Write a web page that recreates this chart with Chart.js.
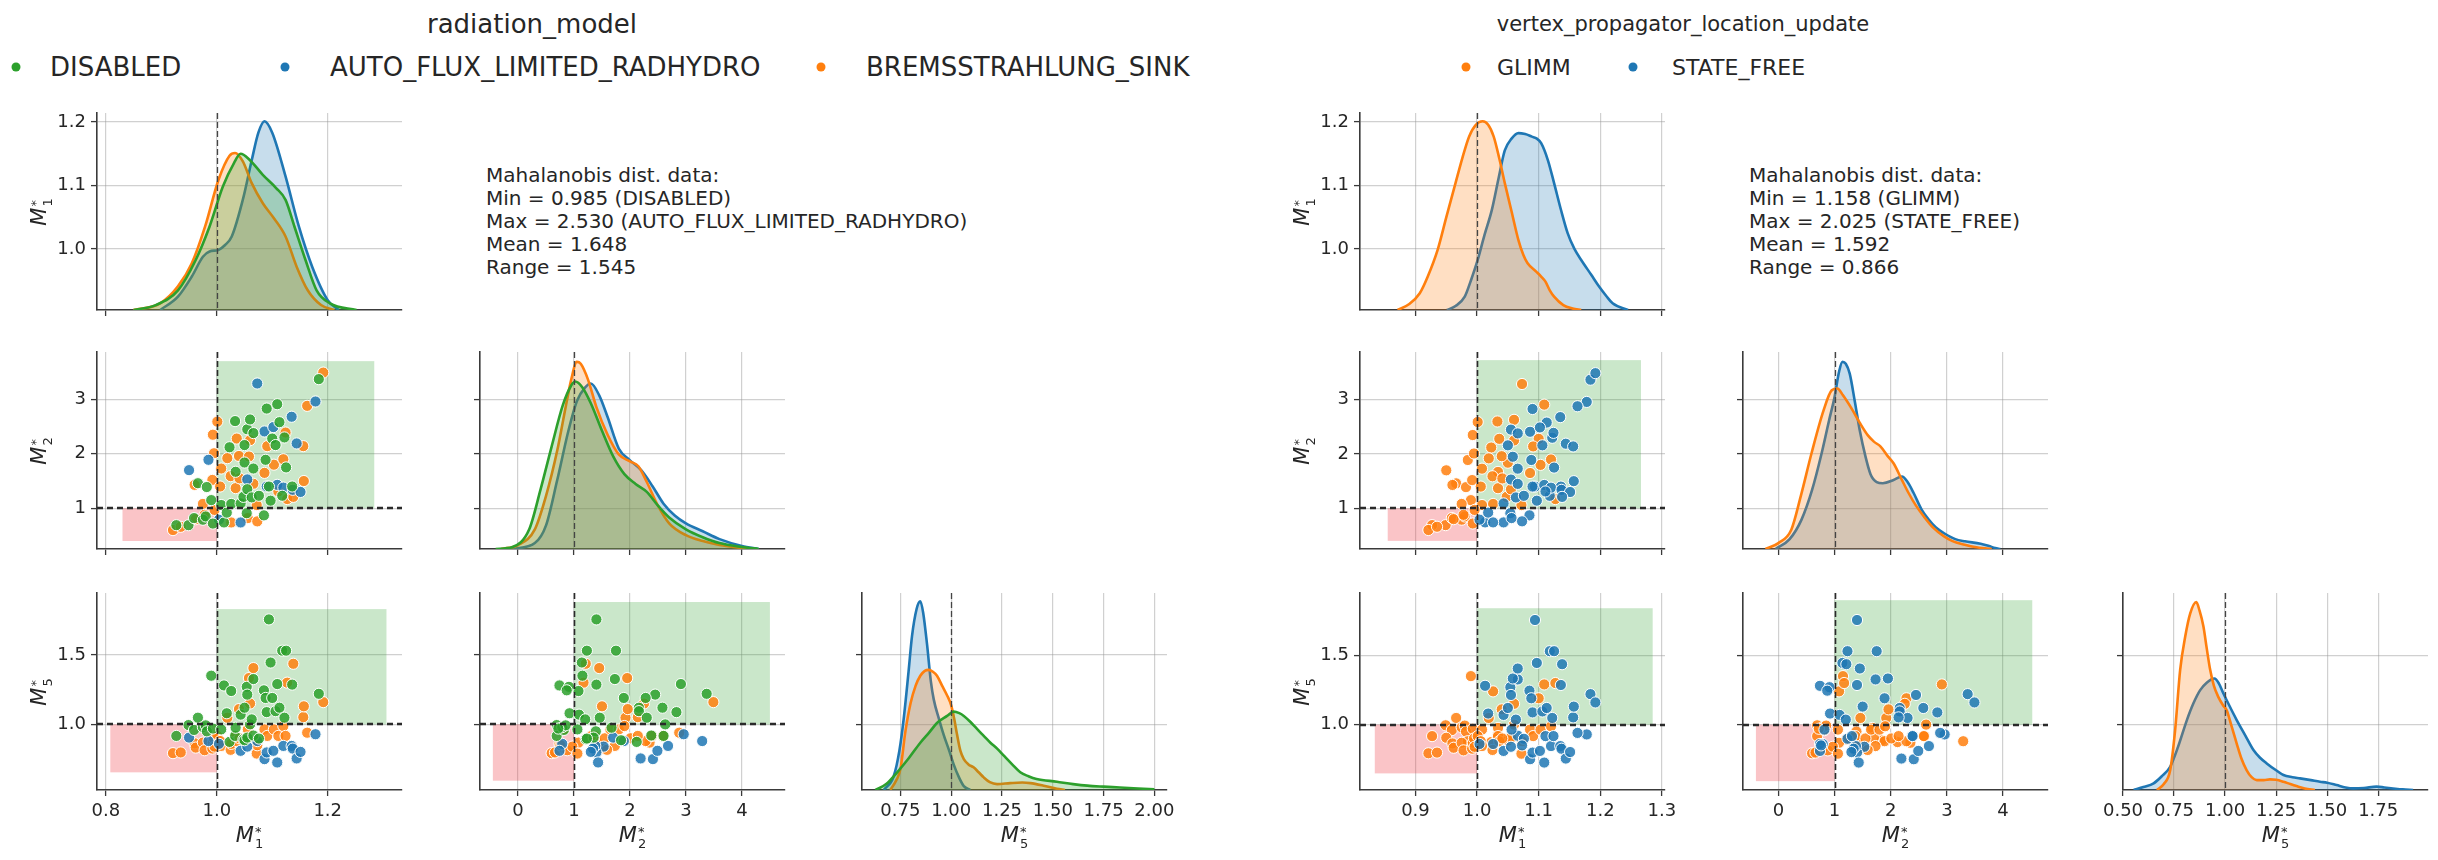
<!DOCTYPE html>
<html><head><meta charset="utf-8">
<script src="https://cdn.jsdelivr.net/npm/chart.js@4.4.1/dist/chart.umd.min.js"></script>
<style>
html,body{margin:0;padding:0;background:#fff;}
#wrap{position:relative;width:2438px;height:860px;overflow:hidden;background:#fff;font-family:'DejaVu Sans',sans-serif;color:#262626;}
canvas{position:absolute;}
.t{position:absolute;white-space:nowrap;}
.title{transform:translate(-50%,-50%);}
.leg{transform:translateY(-50%);}
.dot{position:absolute;width:9px;height:9px;border-radius:50%;transform:translate(-50%,-50%);}
.note{font-size:20px;line-height:23px;}
.ax{font-size:21px;transform:translate(-50%,-50%);}
.ay{font-size:21px;transform:translate(-50%,-50%) rotate(-90deg);}
.ss{display:inline-flex;flex-direction:column;font-size:0.62em;line-height:0.9;vertical-align:0.45em;margin-left:1px;text-align:left;font-style:normal;}
</style></head>
<body><div id="wrap"></div>
<script>
// ---------------- DATA ----------------
const radiationNames = ['DISABLED','AUTO_FLUX_LIMITED_RADHYDRO','BREMSSTRAHLUNG_SINK'];
const vertexNames = ['GLIMM','STATE_FREE'];
// each point: [M1*, M2*, M5*, vertex label ('G' = GLIMM, 'S' = STATE_FREE)]
const ptsDisabled = [
[0.927,0.69,0.917,'G'],[0.949,0.69,0.995,'G'],[0.959,0.82,0.960,'G'],[0.966,1.46,1.048,'G'],
[0.975,0.79,0.980,'G'],[0.980,0.85,0.993,'G'],[0.982,1.39,0.950,'G'],[0.990,1.15,1.350,'G'],
[0.993,0.72,0.970,'G'],[1.008,1.06,0.964,'G'],[1.013,0.74,1.280,'S'],[1.018,0.92,1.080,'S'],
[1.023,2.12,0.874,'G'],[1.026,1.08,1.240,'G'],[1.033,2.60,0.917,'G'],[1.034,1.67,0.976,'G'],
[1.043,1.09,1.070,'S'],[1.048,1.21,0.893,'G'],[1.050,2.16,1.120,'S'],[1.050,1.84,0.886,'G'],
[1.054,0.91,1.270,'S'],[1.055,2.45,1.214,'S'],[1.055,1.35,0.905,'G'],[1.060,2.63,1.000,'G'],
[1.063,1.20,1.036,'S'],[1.066,2.38,0.920,'S'],[1.066,1.73,1.326,'S'],[1.076,1.23,0.898,'S'],
[1.085,0.87,1.245,'S'],[1.088,1.89,1.190,'S'],[1.090,2.83,1.088,'S'],[1.094,1.40,1.755,'S'],
[1.097,1.14,1.445,'S'],[1.100,2.28,1.190,'G'],[1.106,2.16,1.095,'S'],[1.109,2.91,1.290,'G'],
[1.113,2.58,1.120,'S'],[1.118,1.23,1.530,'S'],[1.122,2.30,1.048,'S'],[1.125,1.75,1.530,'S'],
[1.136,1.40,1.286,'S'],[1.184,3.37,1.220,'S']
];
const ptsAuto = [
[0.950,1.70,0.905,'G'],[0.985,1.89,0.880,'G'],[1.004,0.79,0.860,'S'],[1.043,0.74,0.810,'S'],
[1.055,1.53,0.840,'S'],[1.073,3.29,0.880,'G'],[1.086,2.41,0.750,'S'],[1.090,1.40,0.798,'S'],
[1.102,2.49,0.810,'S'],[1.109,1.43,0.726,'S'],[1.120,1.38,0.845,'S'],[1.135,2.68,0.845,'S'],
[1.137,1.34,0.826,'S'],[1.144,2.19,0.755,'S'],[1.151,1.30,0.802,'S'],[1.178,2.96,0.929,'S']
];
const ptsBrems = [
[0.921,0.60,0.793,'G'],[0.935,0.66,0.798,'G'],[0.960,1.43,0.864,'G'],[0.962,0.80,0.833,'G'],
[0.975,1.08,0.869,'G'],[0.978,0.88,0.814,'G'],[0.992,1.52,0.826,'G'],[0.993,2.35,0.869,'G'],
[0.995,2.01,0.900,'G'],[0.996,0.97,0.840,'G'],[1.001,2.59,0.917,'G'],[1.006,1.40,0.880,'G'],
[1.008,1.73,0.845,'G'],[1.019,1.92,1.048,'G'],[1.025,1.59,0.817,'G'],[1.026,0.74,0.860,'S'],
[1.034,1.37,0.917,'G'],[1.036,2.28,0.880,'G'],[1.040,1.96,1.110,'G'],[1.041,1.55,0.900,'G'],
[1.056,0.82,0.964,'S'],[1.058,1.95,1.333,'S'],[1.060,2.25,1.150,'G'],[1.066,1.45,1.405,'S'],
[1.072,1.06,0.790,'G'],[1.073,0.76,0.850,'S'],[1.086,1.65,0.964,'G'],[1.091,2.14,0.917,'G'],
[1.103,1.80,0.964,'G'],[1.111,1.31,0.917,'S'],[1.120,1.90,0.988,'G'],[1.124,2.39,0.917,'S'],
[1.127,1.17,1.300,'G'],[1.138,1.21,1.436,'S'],[1.156,2.14,1.052,'S'],[1.157,1.50,1.130,'S'],
[1.163,2.88,0.940,'S'],[1.192,3.49,1.160,'S']
];

// KDE curves: [value, relative density]
const kdeL_M1_auto = [[0.898,0],[0.93,0.068],[0.955,0.17],[0.975,0.27],[0.987,0.297],[1.003,0.305],[1.015,0.33],[1.027,0.373],[1.047,0.56],[1.063,0.76],[1.075,0.9],[1.086,0.958],[1.1,0.9],[1.124,0.678],[1.148,0.424],[1.172,0.22],[1.2,0.05],[1.22,0]];
const kdeL_M1_brems = [[0.85,0],[0.898,0.034],[0.93,0.12],[0.955,0.237],[0.979,0.424],[1.003,0.66],[1.023,0.783],[1.033,0.797],[1.047,0.754],[1.063,0.644],[1.083,0.542],[1.103,0.466],[1.124,0.373],[1.144,0.22],[1.164,0.1],[1.188,0.025],[1.212,0]];
const kdeL_M1_disabled = [[0.85,0],[0.89,0.025],[0.93,0.1],[0.962,0.254],[0.987,0.424],[1.011,0.627],[1.031,0.746],[1.043,0.793],[1.059,0.763],[1.083,0.686],[1.107,0.619],[1.124,0.559],[1.14,0.424],[1.16,0.254],[1.18,0.1],[1.204,0.034],[1.252,0]];
const kdeL_M2_auto = [[-0.1,0],[0.3,0.03],[0.5,0.12],[0.7,0.35],[0.9,0.6],[1.05,0.75],[1.2,0.82],[1.3,0.84],[1.45,0.78],[1.6,0.67],[1.8,0.51],[2.0,0.45],[2.2,0.4],[2.4,0.32],[2.6,0.23],[2.8,0.17],[3.0,0.13],[3.3,0.09],[3.6,0.05],[4.0,0.015],[4.3,0]];
const kdeL_M2_brems = [[-0.3,0],[0.0,0.02],[0.3,0.1],[0.5,0.27],[0.7,0.5],[0.85,0.72],[0.95,0.86],[1.05,0.95],[1.12,0.94],[1.25,0.86],[1.4,0.72],[1.6,0.58],[1.8,0.48],[2.0,0.445],[2.15,0.42],[2.3,0.34],[2.5,0.22],[2.7,0.13],[3.0,0.07],[3.3,0.04],[3.6,0.02],[4.0,0.005],[4.2,0]];
const kdeL_M2_disabled = [[-0.4,0],[-0.1,0.01],[0.2,0.1],[0.4,0.3],[0.6,0.52],[0.8,0.73],[0.95,0.83],[1.02,0.85],[1.15,0.82],[1.3,0.74],[1.5,0.6],[1.7,0.47],[1.9,0.38],[2.1,0.33],[2.3,0.29],[2.5,0.22],[2.7,0.16],[3.0,0.1],[3.3,0.06],[3.6,0.03],[4.0,0.01],[4.3,0]];
const kdeL_M5_auto = [[0.668,0],[0.717,0.07],[0.745,0.2],[0.766,0.36],[0.79,0.6],[0.807,0.78],[0.83,0.92],[0.848,0.958],[0.862,0.9],[0.881,0.74],[0.9,0.55],[0.914,0.46],[0.94,0.36],[0.963,0.28],[0.99,0.2],[1.012,0.13],[1.04,0.06],[1.062,0.02],[1.094,0]];
const kdeL_M5_brems = [[0.70,0],[0.73,0.05],[0.75,0.106],[0.775,0.3],[0.8,0.44],[0.825,0.53],[0.848,0.58],[0.87,0.605],[0.889,0.61],[0.91,0.6],[0.93,0.58],[0.955,0.53],[0.98,0.48],[1.0,0.43],[1.015,0.36],[1.029,0.28],[1.045,0.2],[1.062,0.157],[1.085,0.13],[1.11,0.115],[1.135,0.09],[1.16,0.064],[1.19,0.04],[1.226,0.03],[1.29,0.035],[1.35,0.038],[1.39,0.035],[1.455,0.022],[1.52,0.006],[1.56,0]];
const kdeL_M5_disabled = [[0.627,0],[0.68,0.03],[0.734,0.09],[0.79,0.16],[0.848,0.24],[0.89,0.29],[0.93,0.34],[0.98,0.376],[1.012,0.398],[1.04,0.39],[1.062,0.376],[1.095,0.345],[1.127,0.31],[1.16,0.275],[1.193,0.24],[1.226,0.21],[1.259,0.174],[1.3,0.13],[1.34,0.09],[1.38,0.07],[1.42,0.056],[1.52,0.042],[1.6,0.03],[1.67,0.022],[1.75,0.017],[1.83,0.013],[1.92,0.008],[2.0,0.003]];
const kdeR_M1_glimm = [[0.871,0],[0.89,0.03],[0.907,0.085],[0.92,0.17],[0.936,0.305],[0.95,0.47],[0.965,0.644],[0.976,0.77],[0.987,0.88],[0.998,0.94],[1.009,0.958],[1.018,0.94],[1.027,0.88],[1.036,0.77],[1.045,0.644],[1.056,0.5],[1.067,0.356],[1.075,0.28],[1.082,0.237],[1.096,0.195],[1.104,0.17],[1.111,0.144],[1.118,0.1],[1.125,0.068],[1.14,0.025],[1.155,0.008],[1.169,0]];
const kdeR_M1_state = [[0.951,0],[0.965,0.02],[0.98,0.068],[0.99,0.15],[1.001,0.254],[1.012,0.38],[1.024,0.508],[1.035,0.67],[1.045,0.81],[1.056,0.87],[1.067,0.898],[1.078,0.893],[1.089,0.88],[1.097,0.87],[1.104,0.847],[1.115,0.76],[1.125,0.644],[1.136,0.51],[1.147,0.39],[1.158,0.31],[1.169,0.254],[1.185,0.18],[1.198,0.119],[1.21,0.07],[1.22,0.034],[1.245,0]];
const kdeR_M2_glimm = [[-0.23,0],[0.0,0.03],[0.23,0.098],[0.4,0.27],[0.59,0.486],[0.8,0.7],[0.95,0.806],[1.05,0.815],[1.15,0.78],[1.32,0.705],[1.45,0.64],[1.59,0.578],[1.7,0.545],[1.82,0.52],[1.95,0.47],[2.05,0.435],[2.2,0.35],[2.32,0.283],[2.45,0.22],[2.59,0.165],[2.75,0.11],[2.95,0.064],[3.1,0.04],[3.32,0.022],[3.5,0.01],[3.68,0.003],[3.8,0]];
const kdeR_M2_state = [[-0.05,0],[0.2,0.05],[0.41,0.148],[0.6,0.3],[0.77,0.486],[0.9,0.65],[1.0,0.772],[1.08,0.9],[1.14,0.95],[1.2,0.94],[1.27,0.89],[1.36,0.75],[1.45,0.6],[1.55,0.47],[1.64,0.38],[1.75,0.34],[1.86,0.334],[2.05,0.35],[2.2,0.368],[2.3,0.34],[2.41,0.283],[2.55,0.2],[2.68,0.148],[2.8,0.11],[2.95,0.08],[3.15,0.05],[3.32,0.039],[3.6,0.027],[3.75,0.015],[3.86,0.005],[3.95,0]];
const kdeR_M5_glimm = [[0.666,0],[0.7,0.03],[0.731,0.10],[0.755,0.3],[0.78,0.61],[0.805,0.78],[0.829,0.895],[0.859,0.954],[0.875,0.91],[0.894,0.83],[0.91,0.72],[0.927,0.61],[0.945,0.53],[0.968,0.47],[0.99,0.43],[1.008,0.405],[1.03,0.33],[1.057,0.236],[1.08,0.16],[1.106,0.10],[1.13,0.065],[1.155,0.05],[1.19,0.05],[1.22,0.054],[1.25,0.052],[1.286,0.042],[1.32,0.03],[1.35,0.02],[1.39,0.008],[1.44,0]];
const kdeR_M5_state = [[0.552,0],[0.6,0.015],[0.65,0.034],[0.69,0.07],[0.731,0.118],[0.77,0.22],[0.813,0.355],[0.845,0.44],[0.878,0.507],[0.91,0.545],[0.948,0.566],[0.97,0.54],[0.992,0.49],[1.02,0.43],[1.057,0.355],[1.1,0.275],[1.139,0.203],[1.17,0.165],[1.204,0.135],[1.25,0.1],[1.286,0.076],[1.33,0.065],[1.367,0.059],[1.42,0.05],[1.465,0.042],[1.5,0.037],[1.546,0.025],[1.59,0.013],[1.628,0.008],[1.68,0.01],[1.742,0.017],[1.78,0.013],[1.823,0.008],[1.87,0.003],[1.921,0]];

// tick values
const ticksM1Left = [0.8,1.0,1.2];
const ticksM1Right = [0.9,1.0,1.1,1.2,1.3];
const ticksM2 = [0,1,2,3,4];
const ticksM5Left = [0.75,1.0,1.25,1.5,1.75,2.0];
const ticksM5Right = [0.5,0.75,1.0,1.25,1.5,1.75];
const ticksRow0 = [1.0,1.1,1.2];
const ticksM2y = [1,2,3];
const ticksM5y = [1.0,1.5];

// shaded regions [xFrom, xTo, yFrom, yTo]
const greenL = {m2m1:[1.0,1.284,1.0,3.70], m5m1:[1.0,1.306,1.0,1.829], m5m2:[1.0,4.5,1.0,1.88]};
const redL   = {m2m1:[0.83,1.0,0.40,1.0], m5m1:[0.808,1.0,0.655,1.0], m5m2:[-0.45,1.0,0.595,1.0]};
const greenR = {m2m1:[1.0,1.266,1.0,3.73], m5m1:[1.0,1.285,1.0,1.84], m5m2:[1.0,4.52,1.0,1.898]};
const redR   = {m2m1:[0.855,1.0,0.40,1.0], m5m1:[0.834,1.0,0.648,1.0], m5m2:[-0.40,1.0,0.592,1.0]};

const notesLeft = ['Mahalanobis dist. data:','Min = 0.985 (DISABLED)','Max = 2.530 (AUTO_FLUX_LIMITED_RADHYDRO)','Mean = 1.648','Range = 1.545'];
const notesRight = ['Mahalanobis dist. data:','Min = 1.158 (GLIMM)','Max = 2.025 (STATE_FREE)','Mean = 1.592','Range = 0.866'];

// ---------------- LAYOUT / STYLE ----------------
const C_GREEN='#2ca02c', C_BLUE='#1f77b4', C_ORANGE='#ff7f0e';
const PW=305, PH=197, PADL=100, PADR=45, PADT=20, PADB=80;
const rowY=[113,352,593];
const colL=[97,480,862], colR=[1360,1743,2123];
const FONT='DejaVu Sans';
const wrap=document.getElementById('wrap');

function rgba(hex,a){const n=parseInt(hex.slice(1),16);return `rgba(${n>>16&255},${n>>8&255},${n&255},${a})`;}
function makeCanvas(x,y){const c=document.createElement('canvas');c.width=PW+PADL+PADR;c.height=PH+PADT+PADB;c.style.left=(x-PADL)+'px';c.style.top=(y-PADT)+'px';wrap.appendChild(c);return c;}
function axis(pos,range,ticks,dec,show){
  return {type:'linear',position:pos,min:range[0],max:range[1],
    afterBuildTicks:s=>{s.ticks=ticks.map(v=>({value:v}));},
    afterFit:s=>{if(pos==='bottom')s.height=PADB;else s.width=PADL;},
    ticks:{autoSkip:false,maxRotation:0,minRotation:0,padding:5,color:'#262626',font:{family:FONT,size:18},
      callback:v=>show?Number(v).toFixed(dec):''},
    grid:{color:'rgba(150,150,150,0.45)',lineWidth:1.2,tickLength:6,tickColor:'#3a3a3a',tickWidth:1.3},
    border:{display:true,color:'#3a3a3a',width:1.6}};
}
function overlay(rects,vline,hline,diag){
  return {id:'ov',
    beforeDatasetsDraw(ch){const {ctx,chartArea:a,scales}=ch;const xs=scales.x,ys=scales.y;
      ctx.save();ctx.beginPath();ctx.rect(a.left,a.top,a.width,a.height);ctx.clip();
      rects.forEach(r=>{const x0=xs.getPixelForValue(r.b[0]),x1=xs.getPixelForValue(r.b[1]),y0=ys.getPixelForValue(r.b[2]),y1=ys.getPixelForValue(r.b[3]);
        ctx.fillStyle=r.c;ctx.fillRect(Math.min(x0,x1),Math.min(y0,y1),Math.abs(x1-x0),Math.abs(y1-y0));});
      ctx.restore();},
    afterDatasetsDraw(ch){const {ctx,chartArea:a,scales}=ch;const xs=scales.x,ys=scales.y;
      ctx.save();ctx.strokeStyle=diag?'#444':'#2a2a2a';
      if(vline!=null){const px=Math.round(xs.getPixelForValue(vline))+0.5;ctx.lineWidth=diag?1.3:1.6;ctx.setLineDash([6,3]);
        ctx.beginPath();ctx.moveTo(px,a.top);ctx.lineTo(px,a.bottom);ctx.stroke();}
      if(hline!=null){const py=Math.round(ys.getPixelForValue(hline));ctx.lineWidth=2.4;ctx.setLineDash([6,4]);
        ctx.beginPath();ctx.moveTo(a.left,py);ctx.lineTo(a.right,py);ctx.stroke();}
      ctx.restore();}};
}
const baseOpts={responsive:false,animation:false,events:[],devicePixelRatio:1,
  layout:{padding:{left:0,right:PADR,top:PADT,bottom:0}},
  plugins:{legend:{display:false},tooltip:{enabled:false}}};

function scatterDs(pts,xi,yi,color){
  return {type:'scatter',data:pts.map(p=>({x:p[xi],y:p[yi]})),backgroundColor:rgba(color,0.85),
    borderColor:'#ffffff',borderWidth:1,pointRadius:5.6,pointHoverRadius:5.6};
}
function kdeDs(pts,color){
  return {type:'line',data:pts.map(p=>({x:p[0],y:p[1]})),yAxisID:'yd',borderColor:color,borderWidth:2.6,
    backgroundColor:rgba(color,0.25),fill:'origin',pointRadius:0,tension:0.4,cubicInterpolationMode:'monotone'};
}
function diagChart(x,y,xAx,yAx,sets){
  new Chart(makeCanvas(x,y),{type:'line',data:{datasets:sets},
    options:Object.assign({},baseOpts,{scales:{x:xAx,y:yAx,yd:{type:'linear',display:false,min:0,max:1}}}),
    plugins:[overlay([],1.0,null,true)]});
}
function scatChart(x,y,xAx,yAx,sets,g,r){
  new Chart(makeCanvas(x,y),{type:'scatter',data:{datasets:sets},
    options:Object.assign({},baseOpts,{scales:{x:xAx,y:yAx}}),
    plugins:[overlay([{b:g,c:'rgba(44,160,44,0.25)'},{b:r,c:'rgba(240,60,70,0.3)'}],1.0,1.0,false)]});
}

// ranges
const L={m1:[0.784,1.334],m2x:[-0.68,4.77],m5x:[0.561,2.062],r0:[0.904,1.214],m2y:[0.253,3.868],m5y:[0.528,1.945]};
const R={m1:[0.81,1.305],m2x:[-0.63,4.8],m5x:[0.5,1.994],r0:[0.904,1.214],m2y:[0.25,3.88],m5y:[0.528,1.95]};

// ---------- LEFT GRID (radiation_model) ----------
const Lsets=(xi,yi)=>[scatterDs(ptsDisabled,xi,yi,C_GREEN),scatterDs(ptsAuto,xi,yi,C_BLUE),scatterDs(ptsBrems,xi,yi,C_ORANGE)];
diagChart(colL[0],rowY[0],axis('bottom',L.m1,ticksM1Left,1,false),axis('left',L.r0,ticksRow0,1,true),
  [kdeDs(kdeL_M1_disabled,C_GREEN),kdeDs(kdeL_M1_brems,C_ORANGE),kdeDs(kdeL_M1_auto,C_BLUE)]);
scatChart(colL[0],rowY[1],axis('bottom',L.m1,ticksM1Left,1,false),axis('left',L.m2y,ticksM2y,0,true),Lsets(0,1),greenL.m2m1,redL.m2m1);
diagChart(colL[1],rowY[1],axis('bottom',L.m2x,ticksM2,0,false),axis('left',L.m2y,ticksM2y,0,false),
  [kdeDs(kdeL_M2_disabled,C_GREEN),kdeDs(kdeL_M2_brems,C_ORANGE),kdeDs(kdeL_M2_auto,C_BLUE)]);
scatChart(colL[0],rowY[2],axis('bottom',L.m1,ticksM1Left,1,true),axis('left',L.m5y,ticksM5y,1,true),Lsets(0,2),greenL.m5m1,redL.m5m1);
scatChart(colL[1],rowY[2],axis('bottom',L.m2x,ticksM2,0,true),axis('left',L.m5y,ticksM5y,1,false),Lsets(1,2),greenL.m5m2,redL.m5m2);
diagChart(colL[2],rowY[2],axis('bottom',L.m5x,ticksM5Left,2,true),axis('left',L.m5y,ticksM5y,1,false),
  [kdeDs(kdeL_M5_disabled,C_GREEN),kdeDs(kdeL_M5_brems,C_ORANGE),kdeDs(kdeL_M5_auto,C_BLUE)]);

// ---------- RIGHT GRID (vertex_propagator_location_update) ----------
const allPts=ptsDisabled.concat(ptsAuto,ptsBrems);
const ptsGlimm=allPts.filter(p=>p[3]==='G'), ptsState=allPts.filter(p=>p[3]==='S');
const Rsets=(xi,yi)=>[scatterDs(ptsState,xi,yi,C_BLUE),scatterDs(ptsGlimm,xi,yi,C_ORANGE)];
diagChart(colR[0],rowY[0],axis('bottom',R.m1,ticksM1Right,1,false),axis('left',R.r0,ticksRow0,1,true),
  [kdeDs(kdeR_M1_glimm,C_ORANGE),kdeDs(kdeR_M1_state,C_BLUE)]);
scatChart(colR[0],rowY[1],axis('bottom',R.m1,ticksM1Right,1,false),axis('left',R.m2y,ticksM2y,0,true),Rsets(0,1),greenR.m2m1,redR.m2m1);
diagChart(colR[1],rowY[1],axis('bottom',R.m2x,ticksM2,0,false),axis('left',R.m2y,ticksM2y,0,false),
  [kdeDs(kdeR_M2_glimm,C_ORANGE),kdeDs(kdeR_M2_state,C_BLUE)]);
scatChart(colR[0],rowY[2],axis('bottom',R.m1,ticksM1Right,1,true),axis('left',R.m5y,ticksM5y,1,true),Rsets(0,2),greenR.m5m1,redR.m5m1);
scatChart(colR[1],rowY[2],axis('bottom',R.m2x,ticksM2,0,true),axis('left',R.m5y,ticksM5y,1,false),Rsets(1,2),greenR.m5m2,redR.m5m2);
diagChart(colR[2],rowY[2],axis('bottom',R.m5x,ticksM5Right,2,true),axis('left',R.m5y,ticksM5y,1,false),
  [kdeDs(kdeR_M5_glimm,C_ORANGE),kdeDs(kdeR_M5_state,C_BLUE)]);

// ---------------- TEXT ----------------
function addText(cls,html,x,y,size){const d=document.createElement('div');d.className='t '+cls;d.innerHTML=html;d.style.left=x+'px';d.style.top=y+'px';if(size)d.style.fontSize=size+'px';wrap.appendChild(d);return d;}
function dot(x,y,c){const d=document.createElement('div');d.className='dot';d.style.left=x+'px';d.style.top=y+'px';d.style.background=c;wrap.appendChild(d);}
const mlab=n=>`<i>M</i><span class="ss"><span>*</span><span>${n}</span></span>`;

addText('title','radiation_model',532,24,26);
dot(16,67,C_GREEN);addText('leg',radiationNames[0],50,67,26);
dot(285,67,C_BLUE);addText('leg',radiationNames[1],330,67,26);
dot(821,67,C_ORANGE);addText('leg',radiationNames[2],866,67,26);
addText('title','vertex_propagator_location_update',1683,24,21);
dot(1466,67,C_ORANGE);addText('leg',vertexNames[0],1497,67,22);
dot(1633,67,C_BLUE);addText('leg',vertexNames[1],1672,67,22);

addText('note',notesLeft.join('<br>'),colL[1]+6,164);
addText('note',notesRight.join('<br>'),colR[1]+6,164);

[[colL,'1','2','5'],[colR,'1','2','5']].forEach(([cols,a,b,c])=>{
  addText('ax',mlab(a),cols[0]+PW/2,836);
  addText('ax',mlab(b),cols[1]+PW/2,836);
  addText('ax',mlab(c),cols[2]+PW/2,836);
  addText('ay',mlab(a),cols[0]-57,rowY[0]+PH/2);
  addText('ay',mlab(b),cols[0]-57,rowY[1]+PH/2);
  addText('ay',mlab(c),cols[0]-57,rowY[2]+PH/2);
});
</script></body></html>
